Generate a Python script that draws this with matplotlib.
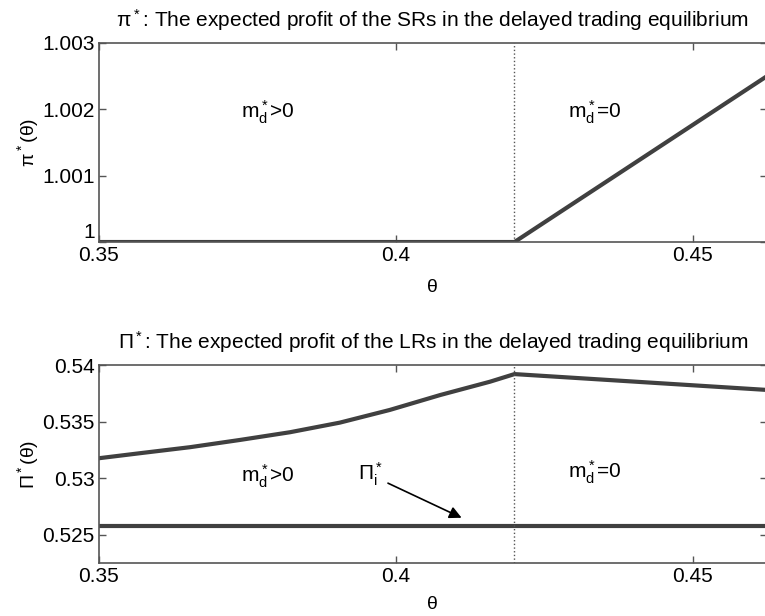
import numpy as np
import matplotlib
matplotlib.use("Agg")
import matplotlib.pyplot as plt

plt.rcParams["font.family"] = ["Liberation Sans", "DejaVu Sans"]
plt.rcParams["mathtext.fontset"] = "custom"
plt.rcParams["mathtext.rm"] = "Liberation Sans"
plt.rcParams["mathtext.it"] = "Liberation Sans"
plt.rcParams["mathtext.bf"] = "Liberation Sans:bold"

# top panel: SR expected profit
theta_sr = [0.35, 0.42, 0.4625]
pi_sr = [1.0, 1.0, 1.0025]

# bottom panel: LR expected profit
theta_lr = [0.35, 0.357, 0.3654, 0.3738, 0.3822, 0.3906, 0.399, 0.4075,
            0.4159, 0.42, 0.4625]
Pi_lr = [0.53176, 0.53221, 0.53274, 0.53338, 0.53406, 0.53491, 0.53603,
         0.53735, 0.53853, 0.5392, 0.5378]
Pi_i = 0.5258

theta_switch = 0.42
xticks = [0.35, 0.4, 0.45]
xticklabels = ["0.35", "0.4", "0.45"]
yticks_top = [1.0, 1.001, 1.002, 1.003]
yticklabels_top = ["1", "1.001", "1.002", "1.003"]
yticks_bot = [0.525, 0.53, 0.535, 0.54]
yticklabels_bot = ["0.525", "0.53", "0.535", "0.54"]

line_col = "#404040"
axis_col = "#555555"
fs = 15

fig = plt.figure(figsize=(7.65, 6.16), dpi=100)
ax1 = fig.add_axes([0.129, 0.6071, 0.8735, 0.3231])
ax2 = fig.add_axes([0.129, 0.0860, 0.8735, 0.3214])


def style(ax, yt, ytl, ylim, xpad):
    ax.set_xlim(0.35, 0.4625)
    ax.set_ylim(*ylim)
    ax.set_xticks(xticks)
    ax.set_xticklabels(xticklabels)
    ax.set_yticks(yt)
    ax.set_yticklabels(ytl)
    ax.tick_params(direction="in", top=True, right=True, length=5,
                   width=1, color=axis_col, labelsize=fs, pad=3)
    for s in ax.spines.values():
        s.set_color(axis_col)
        s.set_linewidth(1.2)
    ax.set_xlabel("θ", fontsize=fs - 1, labelpad=xpad)


# top
ax1.plot(theta_sr, pi_sr, color=line_col, lw=3)
ax1.axvline(theta_switch, color=axis_col, ls=":", lw=1)
style(ax1, yticks_top, yticklabels_top, (1.0, 1.003), 10)
# lowest label sits above its tick, as in the original
ax1.get_yticklabels()[0].set_verticalalignment("bottom")
ax1.set_ylabel(r"$\pi^*$(θ)", fontsize=fs - 1, labelpad=1)
ax1.set_title(r"$\pi^*$: The expected profit of the SRs in the delayed trading equilibrium",
              fontsize=fs, pad=12)
ax1.text(0.3785, 1.00196, r"$\mathrm{m}_d^*$>0", fontsize=fs, ha="center", va="center")
ax1.text(0.4335, 1.00196, r"$\mathrm{m}_d^*$=0", fontsize=fs, ha="center", va="center")

# bottom
ax2.plot(theta_lr, Pi_lr, color=line_col, lw=3)
ax2.axhline(Pi_i, color=line_col, lw=3)
ax2.axvline(theta_switch, color=axis_col, ls=":", lw=1)
style(ax2, yticks_bot, yticklabels_bot, (0.5225, 0.54), 7)
ax2.set_ylabel(r"$\Pi^*$(θ)", fontsize=fs - 1, labelpad=1)
ax2.set_title(r"$\Pi^*$: The expected profit of the LRs in the delayed trading equilibrium",
              fontsize=fs, pad=12)
ax2.text(0.3785, 0.5302, r"$\mathrm{m}_d^*$>0", fontsize=fs, ha="center", va="center")
ax2.text(0.4335, 0.5305, r"$\mathrm{m}_d^*$=0", fontsize=fs, ha="center", va="center")
ax2.annotate(r"$\Pi_i^*$", xy=(0.4111, 0.5265), xytext=(0.3957, 0.5303),
             fontsize=fs, ha="center", va="center",
             arrowprops=dict(arrowstyle="-|>", color="black", lw=1.2,
                             mutation_scale=18, shrinkA=2, shrinkB=0))

fig.savefig("out.png", dpi=100)
